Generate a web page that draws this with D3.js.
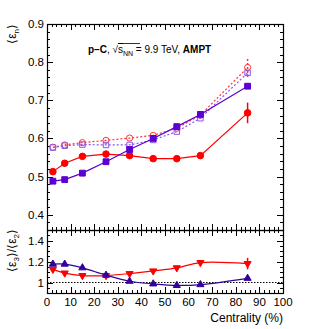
<!DOCTYPE html>
<html>
<head>
<meta charset="utf-8">
<script src="https://cdn.jsdelivr.net/npm/d3@7"></script>
<style>
  body { margin: 0; background: #fff; }
  svg text { font-family: "Liberation Sans", Arial, sans-serif; }
</style>
</head>
<body>
<svg id="chart" width="315" height="329"></svg>
<script>
// Data
const centrality = [2.5, 7.5, 15, 25, 35, 45, 55, 65, 85];

const eps2Red    = [0.513, 0.535, 0.553, 0.559, 0.555, 0.547, 0.547, 0.555, 0.667];
const eps2RedErr = [0, 0, 0, 0, 0, 0, 0, 0, 0.027];
const eps2Blue    = [0.488, 0.492, 0.509, 0.539, 0.571, 0.600, 0.631, 0.663, 0.737];
const eps2BlueErr = [0, 0, 0, 0, 0, 0, 0, 0, 0.005];
const eps3Red    = [0.577, 0.583, 0.589, 0.595, 0.601, 0.608, 0.627, 0.661, 0.786];
const eps3RedErr = [0, 0, 0, 0, 0, 0, 0, 0, 0.025];
const eps3Blue    = [0.576, 0.581, 0.584, 0.583, 0.583, 0.596, 0.618, 0.653, 0.772];
const eps3BlueErr = [0, 0, 0, 0, 0, 0, 0, 0, 0.008];

const ratioRed    = [1.125, 1.09, 1.066, 1.066, 1.085, 1.11, 1.14, 1.19, 1.18];
const ratioRedErr = [0, 0, 0, 0, 0, 0, 0, 0, 0.055];
const ratioBlue   = [1.175, 1.175, 1.14, 1.07, 1.012, 0.987, 0.972, 0.98, 1.04];

const xTicks = [0, 10, 20, 30, 40, 50, 60, 70, 80, 90, 100];
const topTicks = [0.4, 0.5, 0.6, 0.7, 0.8, 0.9];
const botTicks = [1, 1.2, 1.4];

// Layout
const left = 47, right = 283;
const topY0 = 24, topY1 = 230, botY1 = 293;

const svg = d3.select("#chart");

const x = d3.scaleLinear().domain([0, 100]).range([left, right]);
const yTop = d3.scaleLinear().domain([0.36, 0.9]).range([topY1, topY0]);
const yBot = d3.scaleLinear().domain([0.9, 1.5]).range([botY1, topY1]);

const RED = "#ff0000", RED_OPEN = "#ff3333";
const VIOLET = "#5a00d0", VIOLET_OPEN = "#8a55f0", NAVY = "#330099";

// ticks helper: draws inward ticks on all four sides of a panel
function frameTicks(y, yMajor, yMinorStep, y0, y1) {
  const g = svg.append("g").attr("stroke", "#000").attr("stroke-width", 1);
  const minorX = d3.range(0, 100.001, 2);
  minorX.forEach(v => {
    const major = Math.abs(v % 10) < 1e-6;
    const len = major ? 6 : 3;
    const px = Math.round(x(v)) + 0.5;
    g.append("line").attr("x1", px).attr("x2", px).attr("y1", y1).attr("y2", y1 - len);
    g.append("line").attr("x1", px).attr("x2", px).attr("y1", y0).attr("y2", y0 + len);
  });
  const [d0, d1] = y.domain();
  const minorY = d3.range(Math.ceil(d0 / yMinorStep - 1e-6) * yMinorStep, d1 + 1e-6, yMinorStep);
  minorY.forEach(v => {
    const major = yMajor.some(m => Math.abs(m - v) < 1e-6);
    const len = major ? 6 : 3;
    const py = Math.round(y(v)) + 0.5;
    g.append("line").attr("x1", left).attr("x2", left + len).attr("y1", py).attr("y2", py);
    g.append("line").attr("x1", right).attr("x2", right - len).attr("y1", py).attr("y2", py);
  });
  svg.append("rect")
    .attr("x", left + 0.5).attr("y", y0 + 0.5)
    .attr("width", right - left).attr("height", y1 - y0)
    .attr("fill", "none").attr("stroke", "#000").attr("stroke-width", 1.2);
}

frameTicks(yTop, topTicks, 0.02, topY0, topY1);
frameTicks(yBot, botTicks, 0.05, topY1, botY1);

// tick labels
svg.append("g").selectAll("text").data(topTicks).join("text")
  .attr("x", left - 3).attr("y", d => yTop(d) + 4)
  .attr("text-anchor", "end").attr("font-size", 11.5)
  .text(d => d.toFixed(1));
svg.append("g").selectAll("text").data(botTicks).join("text")
  .attr("x", left - 3).attr("y", d => yBot(d) + 4)
  .attr("text-anchor", "end").attr("font-size", 11.5)
  .text(d => d3.format("~g")(d));
svg.append("g").selectAll("text").data(xTicks).join("text")
  .attr("x", d => x(d)).attr("y", botY1 + 13)
  .attr("text-anchor", "middle").attr("font-size", 11.5)
  .text(d => d);

// axis titles
const t1 = svg.append("text")
  .attr("transform", `translate(16,${topY0}) rotate(-90)`)
  .attr("text-anchor", "end").attr("font-size", 12);
t1.append("tspan").text("⟨ε");
t1.append("tspan").attr("font-size", 8).attr("dy", 3).text("n");
t1.append("tspan").attr("dy", -3).text("⟩");

const t2 = svg.append("text")
  .attr("transform", `translate(16,${topY1 - 1}) rotate(-90)`)
  .attr("text-anchor", "end").attr("font-size", 12);
t2.append("tspan").text("⟨ε");
t2.append("tspan").attr("font-size", 8).attr("dy", 3).text("3");
t2.append("tspan").attr("dy", -3).text("⟩/⟨ε");
t2.append("tspan").attr("font-size", 8).attr("dy", 3).text("2");
t2.append("tspan").attr("dy", -3).text("⟩");

svg.append("text")
  .attr("x", right).attr("y", 322)
  .attr("text-anchor", "end").attr("font-size", 12)
  .text("Centrality (%)");

// header
const hd = svg.append("text").attr("x", 88).attr("y", 53).attr("font-size", 10);
hd.append("tspan").attr("font-weight", "bold").text("p–C");
hd.append("tspan").text(", √");
hd.append("tspan").attr("text-decoration", "overline").text("s");
hd.append("tspan").attr("font-size", 7).attr("dy", 2.5).text("NN");
hd.append("tspan").attr("dy", -2.5).text(" = 9.9 TeV, ");
hd.append("tspan").attr("font-weight", "bold").text("AMPT");
svg.append("line").attr("x1", 119).attr("x2", 140).attr("y1", 43.5).attr("y2", 43.5)
  .attr("stroke", "#000").attr("stroke-width", 0.8);

// dotted reference line at 1
svg.append("line")
  .attr("x1", left).attr("x2", right)
  .attr("y1", yBot(1)).attr("y2", yBot(1))
  .attr("stroke", "#000").attr("stroke-dasharray", "1.5,1.5").attr("stroke-width", 1);

// series drawing
function drawSeries(y, vals, errs, opt) {
  const pts = centrality.map((c, i) => ({ c, v: vals[i], e: errs ? errs[i] : 0 }));
  const line = d3.line().x(d => x(d.c)).y(d => y(d.v)).curve(opt.curve || d3.curveLinear);
  svg.append("path").datum(pts)
    .attr("d", line).attr("fill", "none")
    .attr("stroke", opt.color).attr("stroke-width", 1.2)
    .attr("stroke-dasharray", opt.dash || null);
  svg.append("g").selectAll("line").data(pts.filter(d => d.e > 0)).join("line")
    .attr("x1", d => x(d.c)).attr("x2", d => x(d.c))
    .attr("y1", d => y(d.v - d.e)).attr("y2", d => y(d.v + d.e))
    .attr("stroke", opt.color).attr("stroke-width", 1.5)
    .attr("stroke-dasharray", opt.dash || null);
  const sym = d3.symbol().type(opt.symbol).size(opt.size || 30);
  svg.append("g").selectAll("path").data(pts).join("path")
    .attr("transform", d => `translate(${x(d.c)},${y(d.v)})${opt.flip ? " rotate(180)" : ""}`)
    .attr("d", sym)
    .attr("fill", opt.open ? "none" : opt.color)
    .attr("stroke", opt.color).attr("stroke-width", 1);
}

drawSeries(yTop, eps3Red, eps3RedErr, { color: RED_OPEN, symbol: d3.symbolCircle, open: true, dash: "2,2", size: 30 });
drawSeries(yTop, eps3Blue, eps3BlueErr, { color: VIOLET_OPEN, symbol: d3.symbolSquare, open: true, dash: "2,2", size: 30 });
drawSeries(yTop, eps2Red, eps2RedErr, { color: RED, symbol: d3.symbolCircle, size: 34 });
drawSeries(yTop, eps2Blue, eps2BlueErr, { color: VIOLET, symbol: d3.symbolSquare, size: 34 });

drawSeries(yBot, ratioRed, ratioRedErr, { color: RED, symbol: d3.symbolTriangle, flip: true, size: 22, curve: d3.curveCatmullRom });
drawSeries(yBot, ratioBlue, null, { color: NAVY, symbol: d3.symbolTriangle, size: 22, curve: d3.curveCatmullRom });
</script>
</body>
</html>
